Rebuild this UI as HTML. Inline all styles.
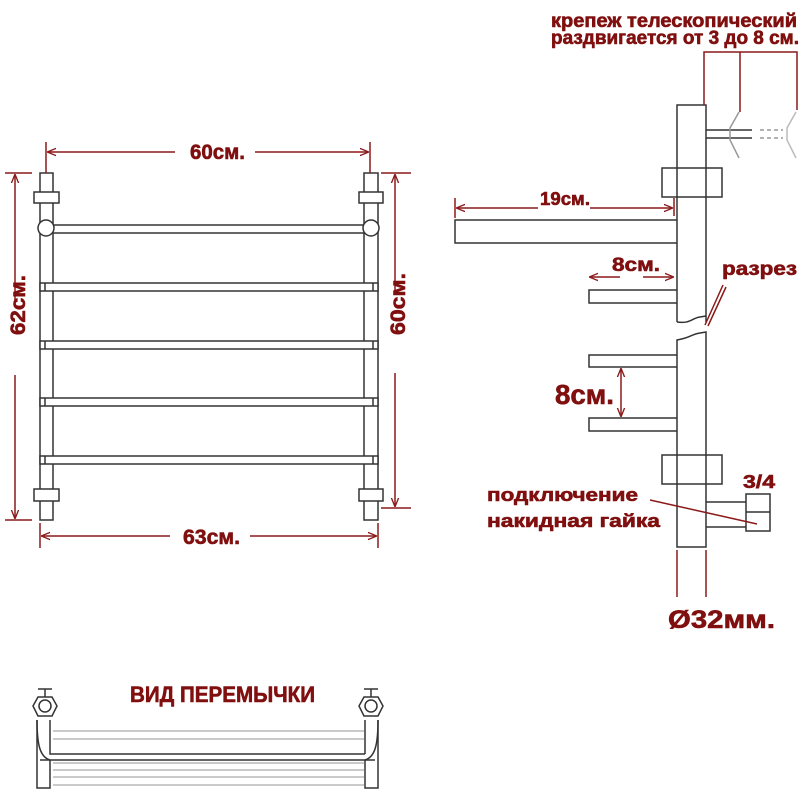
<!DOCTYPE html>
<html><head><meta charset="utf-8"><style>
body{margin:0;background:#fff}
svg{display:block}
text{font-family:"Liberation Sans Narrow","Liberation Sans","DejaVu Sans",sans-serif;font-weight:bold;fill:#800f0f;stroke:#800f0f;stroke-width:0.6}
</style></head><body>
<svg width="800" height="800" viewBox="0 0 800 800" xmlns="http://www.w3.org/2000/svg">
<defs>
<marker id="a" viewBox="0 0 10 10" refX="9" refY="5" markerWidth="6" markerHeight="6" orient="auto-start-reverse"><path d="M0,1L10,5L0,9" fill="none" stroke="#8b1a1a" stroke-width="1.5"/></marker>
</defs>
<g fill="none" stroke="#333" stroke-width="1.5">
<rect x="40" y="173" width="13" height="347" fill="#fff"/>
<rect x="364" y="173" width="14" height="347" fill="#fff"/>
<rect x="34" y="192" width="25" height="11" fill="#fff"/>
<rect x="359" y="192" width="24" height="11" fill="#fff"/>
<rect x="34" y="489" width="25" height="12" fill="#fff"/>
<rect x="359" y="489" width="24" height="12" fill="#fff"/>
<rect x="46" y="225" width="325" height="8" fill="#fff"/>
<circle cx="46" cy="228" r="8" fill="#fff"/>
<circle cx="371" cy="228" r="8" fill="#fff"/>
<rect x="40" y="283" width="338" height="8" fill="#fff"/>
<rect x="40" y="341" width="338" height="8" fill="#fff"/>
<rect x="40" y="398" width="338" height="8" fill="#fff"/>
<rect x="40" y="456" width="338" height="8" fill="#fff"/>
<line x1="45" y1="283" x2="45" y2="291"/><line x1="373" y1="283" x2="373" y2="291"/>
<line x1="45" y1="341" x2="45" y2="349"/><line x1="373" y1="341" x2="373" y2="349"/>
<line x1="45" y1="398" x2="45" y2="406"/><line x1="373" y1="398" x2="373" y2="406"/>
<line x1="45" y1="456" x2="45" y2="464"/><line x1="373" y1="456" x2="373" y2="464"/>
<path d="M677,322 V105 H706 V322 M677,322 C690,324 692,318 700,317 L706,316"/>
<path d="M677,547 V340 C690,338 692,334 700,333 L706,332 V547 Z"/>
<rect x="662" y="168" width="60" height="29"/>
<rect x="662" y="455" width="60" height="29"/>
<path d="M677,220 H455 V243 H677"/>
<path d="M677,290 H589 V303 H677"/>
<path d="M677,355 H589 V367 H677"/>
<path d="M677,418 H589 V431 H677"/>
<path d="M706,502 H746 M706,527 H746"/>
<rect x="746" y="494" width="24" height="37"/>
<line x1="746" y1="512" x2="770" y2="512"/>
<path d="M706,130 H752 M706,138 H752"/>
<path d="M760,130 H783 M760,138 H783" stroke-dasharray="4,3" stroke="#999"/>
<path d="M739,112 L730,128 V140 L739,158" stroke="#999"/>
<path d="M796,112 L787,128 V140 L796,158" stroke="#bbb"/>
<path d="M37,720 V788 H50 V760 M50,720 V754 H365"/>
<path d="M378,720 V788 H365 V760 M365,720 V754"/>
<path d="M40,760 H375"/>
<path d="M37,720 C37,745 40,757 50,760 M378,720 C378,745 375,757 365,760"/>
<polygon points="38,697 52,697 57,706 52,716 38,716 33,706"/>
<circle cx="45" cy="706" r="6"/>
<path d="M38,689 H52 M45,689 V697"/>
<polygon points="364,697 378,697 383,706 378,716 364,716 359,706"/>
<circle cx="371" cy="706" r="6"/>
<path d="M364,689 H378 M371,689 V697"/>
</g>
<g stroke="#aaa" stroke-width="1.2">
<line x1="53" y1="731" x2="364" y2="731"/><line x1="53" y1="739" x2="364" y2="739"/>
<line x1="53" y1="763" x2="364" y2="763"/><line x1="53" y1="770" x2="364" y2="770"/>
<line x1="53" y1="777" x2="364" y2="777"/><line x1="53" y1="785" x2="364" y2="785"/>
</g>
<g stroke="#8b1a1a" stroke-width="1.5" fill="none">
<line x1="46" y1="142" x2="46" y2="173"/><line x1="370" y1="142" x2="370" y2="173"/>
<line x1="48" y1="152" x2="175" y2="152" marker-start="url(#a)"/>
<line x1="255" y1="152" x2="368" y2="152" marker-end="url(#a)"/>
<line x1="5" y1="173" x2="32" y2="173"/><line x1="5" y1="520" x2="32" y2="520"/>
<line x1="15" y1="175" x2="15" y2="300" marker-start="url(#a)"/>
<line x1="15" y1="375" x2="15" y2="518" marker-end="url(#a)"/>
<line x1="381" y1="173" x2="411" y2="173"/><line x1="381" y1="508" x2="411" y2="508"/>
<line x1="395" y1="175" x2="395" y2="295" marker-start="url(#a)"/>
<line x1="395" y1="373" x2="395" y2="506" marker-end="url(#a)"/>
<line x1="40" y1="523" x2="40" y2="548"/><line x1="378" y1="523" x2="378" y2="548"/>
<line x1="42" y1="536" x2="170" y2="536" marker-start="url(#a)"/>
<line x1="250" y1="536" x2="376" y2="536" marker-end="url(#a)"/>
<line x1="455" y1="198" x2="455" y2="218"/><line x1="674" y1="198" x2="674" y2="216"/>
<line x1="457" y1="208" x2="538" y2="208" marker-start="url(#a)"/>
<line x1="590" y1="208" x2="672" y2="208" marker-end="url(#a)"/>
<line x1="590" y1="277" x2="620" y2="277" marker-start="url(#a)"/>
<line x1="643" y1="277" x2="673" y2="277" marker-end="url(#a)"/>
<line x1="621" y1="369" x2="621" y2="416" marker-start="url(#a)" marker-end="url(#a)"/>
<path d="M704,105 V52 H797 V110 M740,52 V112"/>
<path d="M723,285 L705,325 M726,287 L708,326"/>
<line x1="650" y1="500" x2="757" y2="524"/>
<line x1="677" y1="550" x2="677" y2="597"/><line x1="706" y1="550" x2="706" y2="597"/>
</g>
<g>
<text x="190" y="159" font-size="21" textLength="55" lengthAdjust="spacingAndGlyphs">60см.</text>
<text x="183" y="544" font-size="21" textLength="57" lengthAdjust="spacingAndGlyphs">63см.</text>
<text transform="translate(25,335) rotate(-90)" font-size="21" textLength="60" lengthAdjust="spacingAndGlyphs">62см.</text>
<text transform="translate(405,335) rotate(-90)" font-size="21" textLength="62" lengthAdjust="spacingAndGlyphs">60см.</text>
<text x="551" y="27" font-size="19" textLength="246" lengthAdjust="spacingAndGlyphs">крепеж телескопический</text>
<text x="551" y="44" font-size="19" textLength="248" lengthAdjust="spacingAndGlyphs">раздвигается от 3 до 8 см.</text>
<text x="540" y="205" font-size="18" textLength="50" lengthAdjust="spacingAndGlyphs">19см.</text>
<text x="612" y="271" font-size="19" textLength="48" lengthAdjust="spacingAndGlyphs">8см.</text>
<text x="722" y="275" font-size="19" textLength="75" lengthAdjust="spacingAndGlyphs">разрез</text>
<text x="555" y="404" font-size="28" textLength="59" lengthAdjust="spacingAndGlyphs">8см.</text>
<text x="743" y="488" font-size="18" textLength="32" lengthAdjust="spacingAndGlyphs">3/4</text>
<text x="487" y="501" font-size="18" textLength="151" lengthAdjust="spacingAndGlyphs">подключение</text>
<text x="487" y="527" font-size="18" textLength="173" lengthAdjust="spacingAndGlyphs">накидная гайка</text>
<text x="668" y="628" font-size="25" textLength="107" lengthAdjust="spacingAndGlyphs">Ø32мм.</text>
<text x="130" y="702" font-size="22" textLength="185" lengthAdjust="spacingAndGlyphs">ВИД ПЕРЕМЫЧКИ</text>
</g>
</svg>
</body></html>
